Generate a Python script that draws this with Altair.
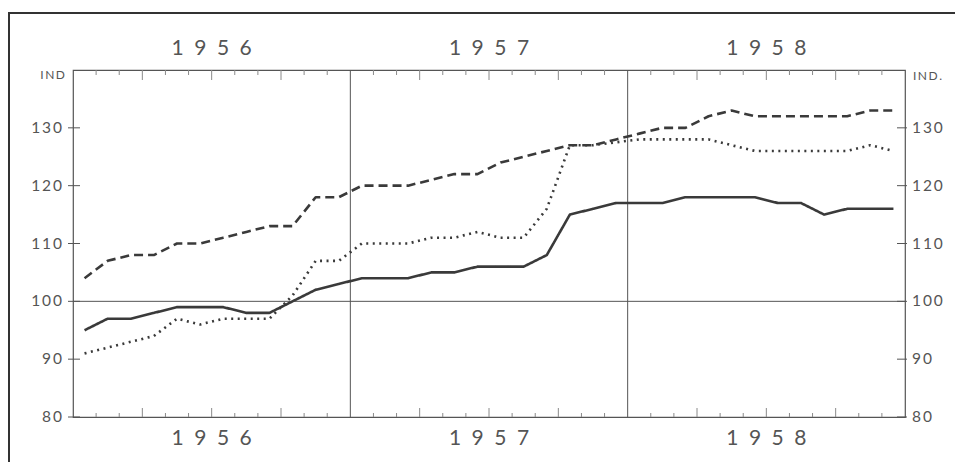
import altair as alt
import pandas as pd

# ---- data ----
months = list(range(36))  # Jan 1956 .. Dec 1958
solid = [95, 97, 97, 98, 99, 99, 99, 98, 98, 100, 102, 103,
         104, 104, 104, 105, 105, 106, 106, 106, 108, 115, 116, 117,
         117, 117, 118, 118, 118, 118, 117, 117, 115, 116, 116, 116]
dashed = [104, 107, 108, 108, 110, 110, 111, 112, 113, 113, 118, 118,
          120, 120, 120, 121, 122, 122, 124, 125, 126, 127, 127, 128,
          129, 130, 130, 132, 133, 132, 132, 132, 132, 132, 133, 133]
dotted = [91, 92, 93, 94, 97, 96, 97, 97, 97, 101, 107, 107,
          110, 110, 110, 111, 111, 112, 111, 111, 116, 127, 127, 127.5,
          128, 128, 128, 128, 127, 126, 126, 126, 126, 126, 127, 126]
series_names = ["Serie 1", "Serie 2", "Serie 3"]
years = ["1956", "1957", "1958"]
y_ticks = [80, 90, 100, 110, 120, 130]
year_bounds = [12, 24]
month_ticks = [k for k in range(1, 36) if k not in (12, 24)]
ref_value = [100]
unit_left = ["IND"]
unit_right = ["IND."]

# ---- styling ----
W, H = 832, 347
INK = "#3a3a3a"
GREY = "#555555"
TICK = "#8a8a8a"
FONT = "Lato"

rows = []
for name, vals in zip(series_names, [solid, dashed, dotted]):
    for m, v in zip(months, vals):
        rows.append({"series": name, "m": m, "value": v})
df = pd.DataFrame(rows)

xs = alt.Scale(domain=[0, 36], nice=False, zero=False)
ys = alt.Scale(domain=[80, 140], nice=False, zero=False)

lines = alt.Chart(df).transform_calculate(xm="datum.m + 0.5").mark_line(
    color=INK, strokeWidth=2.6, strokeCap="butt", strokeJoin="round"
).encode(
    x=alt.X("xm:Q", scale=xs, axis=None),
    y=alt.Y("value:Q", scale=ys, axis=None),
    strokeDash=alt.StrokeDash(
        "series:N",
        scale=alt.Scale(domain=series_names, range=[[1, 0], [9, 5], [2, 4.5]]),
        legend=None,
    ),
)

ref = alt.Chart(pd.DataFrame({"v": ref_value})).mark_rule(color=GREY, strokeWidth=1).encode(
    y=alt.Y("v:Q", scale=ys, axis=None)
)
bounds = alt.Chart(pd.DataFrame({"b": year_bounds})).mark_rule(color=GREY, strokeWidth=1).encode(
    x=alt.X("b:Q", scale=xs, axis=None)
)

tick_base = alt.Chart(pd.DataFrame({"k": month_ticks})).transform_calculate(
    q="datum.k % 3 == 0 ? 1 : 0"
)
tx = alt.X("k:Q", scale=xs, axis=None)
small = tick_base.transform_filter("datum.q == 0")
tall = tick_base.transform_filter("datum.q == 1")
ticks = (
    small.mark_rule(color=TICK, strokeWidth=1).encode(x=tx, y=alt.value(H), y2=alt.value(H - 4))
    + tall.mark_rule(color=TICK, strokeWidth=1).encode(x=tx, y=alt.value(H), y2=alt.value(H - 9))
    + small.mark_rule(color=TICK, strokeWidth=1).encode(x=tx, y=alt.value(0), y2=alt.value(5))
    + tall.mark_rule(color=TICK, strokeWidth=1).encode(x=tx, y=alt.value(0), y2=alt.value(10))
)

ybase = alt.Chart(pd.DataFrame({"v": y_ticks})).transform_calculate(
    lab="join(split(toString(datum.v), ''), '\u2009')"
)
yy = alt.Y("v:Q", scale=ys, axis=None)
yticks = (
    ybase.mark_rule(color=GREY, strokeWidth=1).encode(y=yy, x=alt.value(-5), x2=alt.value(7))
    + ybase.mark_rule(color=GREY, strokeWidth=1).encode(y=yy, x=alt.value(W - 8), x2=alt.value(W + 2))
)
ylabels = (
    ybase.mark_text(align="right", baseline="middle", font=FONT, fontSize=15.5, color=GREY).encode(
        y=yy, x=alt.value(-11), text="lab:N"
    )
    + ybase.mark_text(align="left", baseline="middle", font=FONT, fontSize=15.5, color=GREY).encode(
        y=yy, x=alt.value(W + 7), text="lab:N"
    )
)

ybase_years = alt.Chart(pd.DataFrame({"year": years})).transform_calculate(
    xm="(toNumber(datum.year) - 1956) * 12 + 6",
    lab="join(split(datum.year, ''), '\u2002')",
)
yx = alt.X("xm:Q", scale=xs, axis=None)
year_labels = (
    ybase_years.mark_text(align="center", baseline="middle", font=FONT, fontSize=21, color=GREY).encode(
        x=yx, y=alt.value(-21), text="lab:N"
    )
    + ybase_years.mark_text(align="center", baseline="middle", font=FONT, fontSize=21, color=GREY).encode(
        x=yx, y=alt.value(369), text="lab:N"
    )
)

unit_l = alt.Chart(pd.DataFrame({"u": unit_left})).transform_calculate(
    lab="join(split(datum.u, ''), '\u2009')"
).mark_text(align="right", baseline="middle", font=FONT, fontSize=12, color=GREY).encode(
    x=alt.value(-8), y=alt.value(5), text="lab:N"
)
unit_r = alt.Chart(pd.DataFrame({"u": unit_right})).transform_calculate(
    lab="join(split(datum.u, ''), '\u2009')"
).mark_text(align="left", baseline="middle", font=FONT, fontSize=12, color=GREY).encode(
    x=alt.value(W + 8), y=alt.value(6), text="lab:N"
)

frame = alt.Chart(pd.DataFrame({"f": [0]})).mark_rect(
    fillOpacity=0, stroke="#333333", strokeWidth=2
).encode(x=alt.value(-64), x2=alt.value(W + 120), y=alt.value(-57), y2=alt.value(H + 120))

chart = alt.layer(
    frame, ref, bounds, ticks, yticks, ylabels, year_labels, unit_l, unit_r, lines
).properties(
    width=W,
    height=H,
    padding={"left": 65, "top": 62, "right": 50, "bottom": 45},
    autosize=alt.AutoSizeParams(type="none"),
    background="white",
).configure_view(stroke=GREY, strokeWidth=1.2)

chart.save("out.html", embed_options={"renderer": "svg", "actions": False})
